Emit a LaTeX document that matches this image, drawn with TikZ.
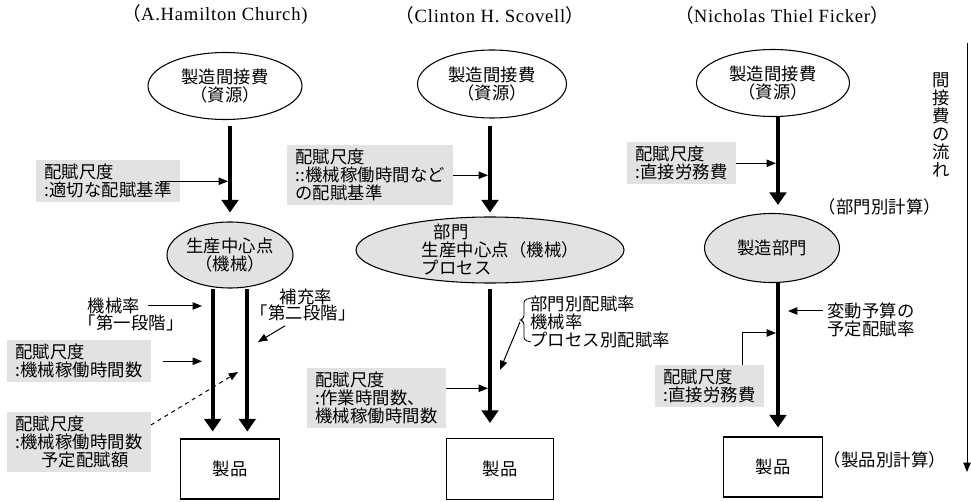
\documentclass[tikz,border=0pt]{standalone}
\usepackage{fontspec}
\setmainfont{Liberation Serif}
\newfontfamily\cjk[LetterSpace=1]{Noto Sans CJK JP}
\newfontfamily\headfont[LetterSpace=4]{Liberation Serif}
\usetikzlibrary{shapes.geometric,arrows.meta}
\definecolor{shade}{gray}{0.885}
\newcommand{\lpar}{{\cjk （}}
\newcommand{\rpar}{{\cjk ）}}
\begin{document}
\begin{tikzpicture}[
	x=0.75pt, y=-0.75pt,
	every node/.style={font=\cjk\fontsize{13}{13.5}\selectfont},
	author/.style={font=\headfont\fontsize{14}{16}\selectfont},
	res/.style={ellipse, draw, line width=0.8pt, inner sep=0pt, align=center},
	hub/.style={res, fill=shade},
	memo/.style={fill=shade, inner xsep=6pt, inner ysep=3pt, align=left, anchor=north west},
	prod/.style={rectangle, draw, line width=0.8pt},
	flow/.style={-{Triangle[width=12.5pt,length=9.5pt]}, line width=3pt},
	note/.style={-{Triangle[width=5.5pt,length=7pt]}, line width=0.75pt},
	hint/.style={note, dashed}
]
\useasboundingbox (0,0) rectangle (971,502);

% Column titles
\node[author] (hA) at (215,15) {\lpar A.Hamilton Church)};
\node[author] (hB) at (490,15) {\lpar Clinton H. Scovell\rpar};
\node[author] (hC) at (782,15) {\lpar Nicholas Thiel Ficker\rpar};

% Church
\node[res, minimum width=115.5pt, minimum height=50.25pt] (eA1) at (225,86) {製造間接費\\（資源）};
\node[hub, minimum width=94.5pt, minimum height=49.5pt] (eA2) at (230,255) {生産中心点\\（機械）};
\node[prod, minimum width=74.25pt, minimum height=45pt] (pA) at (230,469) {製品};
\node[memo] (bA1) at (36,160) {配賦尺度\\:適切な配賦基準};
\node (mrate) at (114,306) {機械率};
\node (stage1) at (131,323) {「第一段階」};
\node (srate) at (306,297) {補充率};
\node (stage2) at (303,313) {「第二段階」};
\node[memo] (bA3) at (7,340) {配賦尺度\\:機械稼働時間数};
\node[memo] (bA4) at (7,412) {配賦尺度\\:機械稼働時間数\\\hspace*{1.5em}予定配賦額};
\coordinate (tA1) at (228,0);
\coordinate (tA2) at (202,0);
\coordinate (tA3) at (258,342);
\coordinate (tA4) at (238,372);

\draw[flow, shorten <=4.5pt, shorten >=6.75pt] (eA1.south -| eA2.north) -- (eA2.north);
\draw[flow, shorten >=5.25pt] ([xshift=-13pt]eA2.south) -- ([xshift=-13pt]pA.north);
\draw[flow, shorten >=5.25pt] ([xshift=13pt]eA2.south) -- ([xshift=13pt]pA.north);
\draw[note] ([xshift=-15pt]bA1.east) -- (bA1.east -| tA1);
\draw[note] ([xshift=2pt]mrate.east) -- (mrate.east -| tA2);
\draw[note] ([xshift=-13.5pt]stage2.south) -- (tA3);
\draw[note] ([xshift=9pt]bA3.east) -- (bA3.east -| tA2);
\draw[hint] ([yshift=-9.75pt]bA4.north east) -- (tA4);

% Scovell
\node[res, minimum width=111.75pt, minimum height=51pt] (eB1) at (492,84) {製造間接費\\（資源）};
\node[hub, minimum width=201pt, minimum height=49.5pt, inner ysep=-3pt, align=left] (eB2) at (490,250)
	{\hspace*{1.9em}部門\\\hspace*{1.2em}生産中心点（機械）\\\hspace*{1.2em}プロセス};
\node[prod, minimum width=80.25pt, minimum height=45.75pt] (pB) at (500,469) {製品};
\node[memo] (bB2) at (287,145) {配賦尺度\\::機械稼働時間など\\の配賦基準};
\node[memo] (bB5) at (307,368) {配賦尺度\\:作業時間数、\\機械稼働時間数};
\node[anchor=north west, inner sep=3pt, align=left] (rates) at (526,292) {部門別配賦率\\機械率\\プロセス別配賦率};
\coordinate (tB) at (488,0);
\coordinate (bnotch) at (520,322);
\coordinate (tB2) at (500,370);

\draw[flow, shorten <=5.25pt, shorten >=3pt] (eB1.south -| eB2.north) -- (eB2.north);
\draw[flow, shorten <=3.75pt, shorten >=11.25pt] (eB2.south) -- (eB2.south |- pB.north);
\draw[note] (bB2.east) -- (bB2.east -| tB);
\draw[note] ([yshift=7.5pt]bB5.east) -- ([yshift=7.5pt]bB5.east -| tB);
\draw[line width=0.6pt, rounded corners=2pt] (531,298) -- (524,300) -- (524,318) -- (520,320) -- (524,322) -- (524,340) -- (531,342);
\draw[note] (bnotch) -- (tB2);

% Ficker
\node[res, minimum width=114.75pt, minimum height=50.25pt] (eC1) at (773,83) {製造間接費\\（資源）};
\node[hub, minimum width=101.25pt, minimum height=51.75pt] (eC2) at (772,248) {製造部門};
\node[prod, minimum width=74.25pt, minimum height=45pt] (pC) at (773,467) {製品};
\node[memo] (bC6) at (627,142) {配賦尺度\\:直接労務費};
\node[memo] (bC7) at (655,365) {配賦尺度\\:直接労務費};
\node (dept) at (880,207) {（部門別計算）};
\node (item) at (885,460) {（製品別計算）};
\node[anchor=north west, inner sep=3pt, align=left] (vb) at (823,299) {変動予算の\\予定配賦率};
\node[align=center] (flowtxt) at (941,125) {間\\接\\費\\の\\流\\れ};
\coordinate (axC) at (778,0);
\coordinate (tC) at (776,0);
\coordinate (tC2) at (788,311);
\coordinate (tC3) at (776,333);
\coordinate (fs) at (967,43);
\coordinate (fe) at (967,472);

\draw[flow, shorten >=6pt] (eC1.south -| axC) -- (eC2.north -| axC);
\draw[flow, shorten >=6.75pt] (eC2.south -| axC) -- (pC.north -| axC);
\draw[note] (bC6.east) -- (bC6.east -| tC);
\draw[note] (vb.west |- tC2) -- (tC2);
\draw[note] ([xshift=25pt]bC7.north) |- (tC3);
\draw[note] (fs) -- (fe);
\end{tikzpicture}
\end{document}
